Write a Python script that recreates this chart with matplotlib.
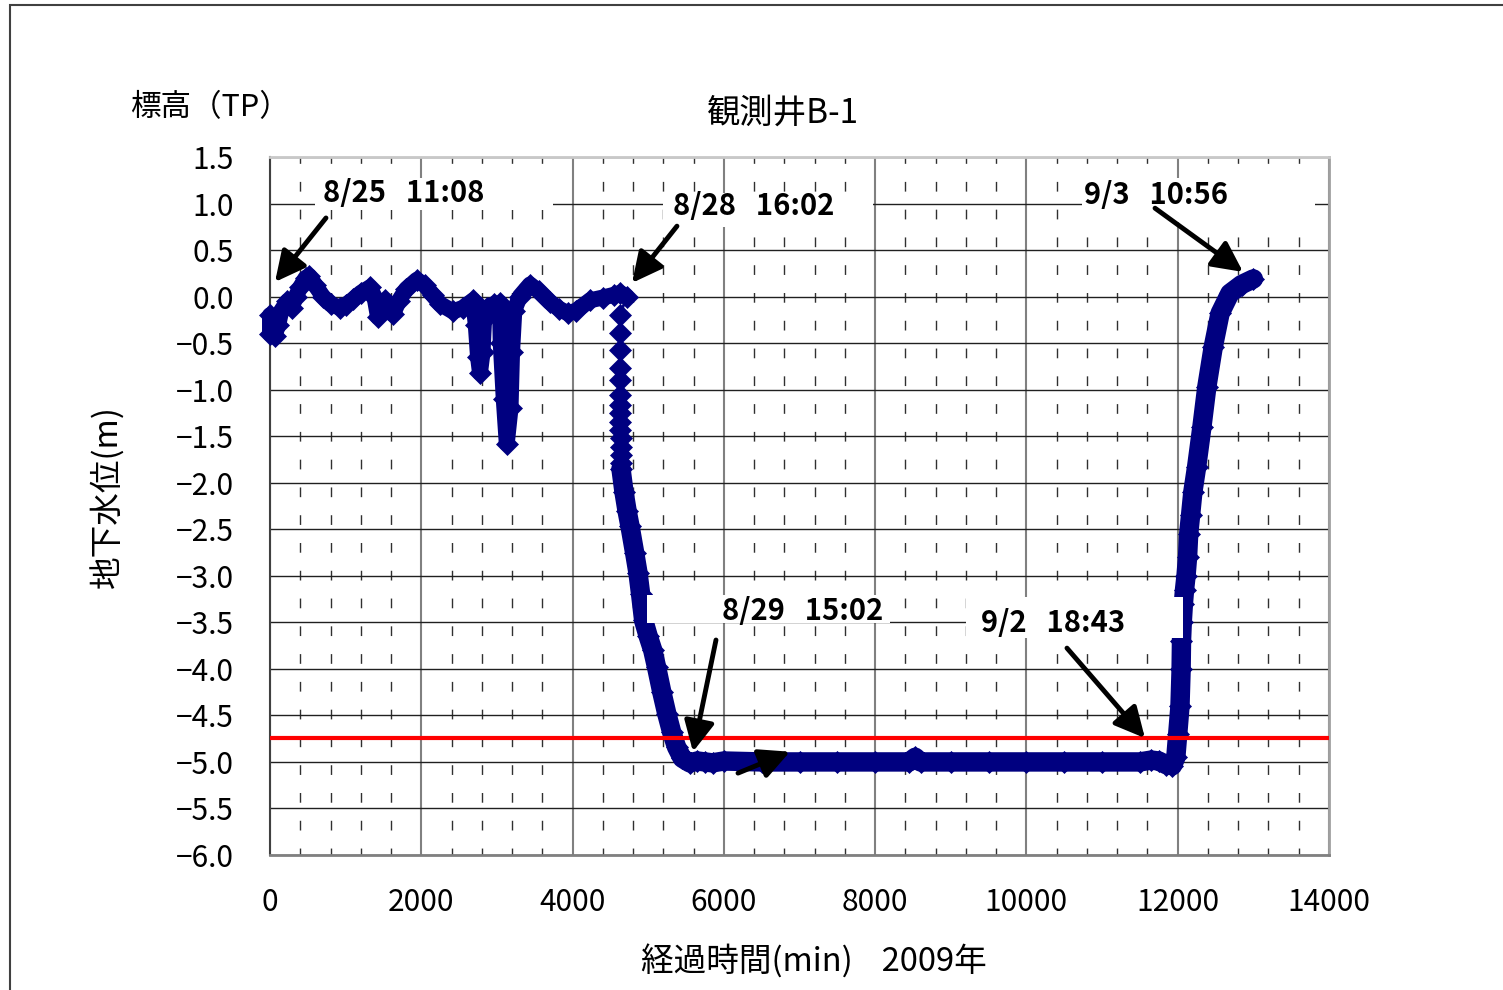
import matplotlib
matplotlib.use("Agg")
import matplotlib.pyplot as plt
from matplotlib.patches import Rectangle
from matplotlib.ticker import MultipleLocator

plt.rcParams["font.family"] = ["Noto Sans CJK JP", "DejaVu Sans"]

# elapsed minutes / groundwater level (m, TP)
# dense part before the drawdown
t_before = [0, 0, 60, 110, 150, 230, 287, 340, 400, 470, 520, 600, 700, 800,
            925, 1000, 1100, 1200, 1322, 1380, 1428, 1470, 1520, 1570, 1626,
            1700, 1800, 1940, 2050, 2150, 2250, 2420, 2550, 2685, 2720, 2750,
            2776, 2810, 2830, 2870, 2960, 3040, 3050, 3090, 3130, 3180, 3200,
            3230, 3300, 3437, 3550, 3700, 3820, 3940, 4050, 4230, 4400, 4550,
            4627, 4715]
h_before = [-0.2, -0.4, -0.42, -0.3, -0.15, -0.05, -0.12, 0.0, 0.1, 0.2,
            0.22, 0.12, 0.0, -0.08, -0.12, -0.09, -0.03, 0.04, 0.1, 0.0,
            -0.22, -0.1, -0.04, -0.12, -0.19, -0.05, 0.08, 0.18, 0.12, 0.02,
            -0.08, -0.16, -0.12, -0.04, -0.3, -0.65, -0.82, -0.6, -0.25, -0.12,
            -0.08, -0.07, -0.5, -1.1, -1.58, -1.2, -0.6, -0.15, 0.0, 0.13, 0.06,
            -0.06, -0.13, -0.18, -0.15, -0.04, -0.01, 0.02, 0.04, 0.0]

# separate markers of the fast drop
t_drop = [4627, 4627, 4627, 4627, 4627, 4627, 4630, 4630, 4633, 4633, 4636,
          4636, 4640, 4640]
h_drop = [-0.2, -0.39, -0.57, -0.77, -0.9, -1.06, -1.16, -1.25, -1.35, -1.43,
          -1.52, -1.62, -1.70, -1.79]

# dense part: drawdown, flat bottom, recovery
t_after = [4640, 4680, 4720, 4760, 4820, 4865, 4900, 4940, 5000, 5060, 5110,
           5180, 5245, 5310, 5375, 5450, 5550, 5650, 5750, 5850, 6000, 6500,
           7000, 7500, 8000, 8450, 8530, 8600, 9000, 9500, 10000, 10500, 11000,
           11500, 11650, 11750, 11850, 11930, 11975, 12000, 12030, 12045, 12050,
           12060, 12075, 12090, 12110, 12130, 12145, 12170, 12200, 12250, 12320,
           12385, 12470, 12560, 12690, 12845, 13000]
h_after = [-1.85, -2.1, -2.3, -2.47, -2.75, -2.97, -3.2, -3.48, -3.65, -3.8,
           -3.98, -4.25, -4.48, -4.68, -4.84, -4.96, -5.01, -4.99, -5.0, -5.01,
           -4.99, -5.0, -5.0, -5.0, -5.0, -5.0, -4.95, -5.0, -5.0, -5.0, -5.0,
           -5.0, -5.0, -5.0, -4.98, -4.99, -5.03, -5.04, -4.95, -4.7, -4.4,
           -4.0, -3.7, -3.5, -3.3, -3.15, -3.0, -2.8, -2.55, -2.35, -2.1, -1.83,
           -1.4, -0.97, -0.54, -0.18, 0.035, 0.13, 0.19]

control_level = -4.74

x_ticks = [0, 2000, 4000, 6000, 8000, 10000, 12000, 14000]
x_tick_labels = ["0", "2000", "4000", "6000", "8000", "10000", "12000", "14000"]
y_ticks = [1.5, 1.0, 0.5, 0.0, -0.5, -1.0, -1.5, -2.0, -2.5, -3.0, -3.5, -4.0,
           -4.5, -5.0, -5.5, -6.0]
y_tick_labels = ["1.5", "1.0", "0.5", "0.0", "\u22120.5", "\u22121.0", "\u22121.5",
                 "\u22122.0", "\u22122.5", "\u22123.0", "\u22123.5", "\u22124.0",
                 "\u22124.5", "\u22125.0", "\u22125.5", "\u22126.0"]

# annotation labels: text, text position, arrow tail, arrow tip
labels = ["8/25   11:08", "8/28   16:02", "9/3   10:56", "8/29   15:02", "9/2   18:43"]
label_xy = [(700, 1.11), (5330, 0.975), (10760, 1.09), (5970, -3.38), (9400, -3.51)]
arrow_tail = [(740, 0.845), (5380, 0.757), (11700, 0.95), (5896, -3.69), (10536, -3.777), (6187, -5.12)]
arrow_tip = [(66, 0.157), (4786, 0.147), (12863, 0.265), (5592, -4.89), (11567, -4.744), (6874, -4.89)]
# white label boxes (x0, x1, y0, y1) that hide the grid
boxes = [(595, 3741, 0.93, 1.275), (5195, 7971, 0.748, 1.113), (10734, 13815, 0.80, 1.275),
         (4984, 8197, -3.507, -3.206), (9201, 12070, -3.668, -3.227)]

navy = "#000080"

fig = plt.figure(figsize=(15.03, 9.90), dpi=100)
ax = fig.add_axes([270 / 1503, 135 / 990, 1059 / 1503, 698 / 990])

# outer chart frame
fig.patches.append(Rectangle((10 / 1503, -0.1), 1.2, 1.1 - 5 / 990, transform=fig.transFigure,
                             fill=False, edgecolor="#404040", lw=1.5))

ax.set_xlim(0, 14000)
ax.set_ylim(-6.0, 1.5)
ax.set_xticks(x_ticks)
ax.set_xticklabels(x_tick_labels)
ax.set_yticks(y_ticks)
ax.set_yticklabels(y_tick_labels)
ax.xaxis.set_minor_locator(MultipleLocator(400))
ax.tick_params(axis="both", which="both", length=0, labelsize=21.5, pad=23)
ax.tick_params(axis="y", pad=26)

ax.grid(axis="y", which="major", color="#202020", lw=1.0, zorder=1)
ax.grid(axis="x", which="major", color="#808080", lw=1.5, zorder=1)
ax.grid(axis="x", which="minor", color="#303030", lw=1.0, linestyle=(2, (7, 13)), zorder=1)
ax.set_axisbelow(True)

ax.spines["left"].set_color("#404040")
ax.spines["left"].set_linewidth(1.5)
ax.spines["bottom"].set_color("#808080")
ax.spines["bottom"].set_linewidth(2)
ax.spines["top"].set_color("#c8c8c8")
ax.spines["top"].set_linewidth(2)
ax.spines["right"].set_color("#a0a0a0")
ax.spines["right"].set_linewidth(2)

t_all = t_before + t_drop + t_after
h_all = h_before + h_drop + h_after
ax.plot(t_all, h_all, color=navy, lw=2, marker="D", ms=11, mec=navy, mew=0.5,
        zorder=3, clip_on=False)
ax.plot(t_before, h_before, color=navy, lw=11.5, solid_joinstyle="round",
        solid_capstyle="round", zorder=3, clip_on=False)
ax.plot(t_after, h_after, color=navy, lw=14, solid_joinstyle="round",
        solid_capstyle="round", zorder=3, clip_on=False)

ax.axhline(control_level, color="#ff0000", lw=3, zorder=4)

for i, (x0, x1, y0, y1) in enumerate(boxes):
    z = 2 if i < 3 else 5
    ax.add_patch(Rectangle((x0, y0), x1 - x0, y1 - y0, facecolor="white",
                           edgecolor="none", zorder=z))

for text, (lx, ly) in zip(labels, label_xy):
    ax.text(lx, ly, text, fontsize=21, fontweight="bold", ha="left", va="center", zorder=6)

for tail, tip in zip(arrow_tail, arrow_tip):
    ax.annotate("", xy=tip, xytext=tail,
                arrowprops=dict(arrowstyle="-|>,head_length=0.8,head_width=0.4",
                                lw=3.5, color="black", mutation_scale=23,
                                shrinkA=0, shrinkB=0), zorder=7)

fig.text(783 / 1503, 1 - 113 / 990, "観測井B-1", fontsize=24, ha="center", va="center")
fig.text(130 / 1503, 1 - 108 / 990, "標高（TP）", fontsize=22, ha="left", va="center")
fig.text(108 / 1503, 1 - 497 / 990, "地下水位(m)", fontsize=23.5, rotation=90,
         ha="center", va="center")
fig.text(814 / 1503, 1 - 962 / 990, "経過時間(min)    2009年", fontsize=23.5,
         ha="center", va="center")

fig.savefig("out.png", dpi=100)
